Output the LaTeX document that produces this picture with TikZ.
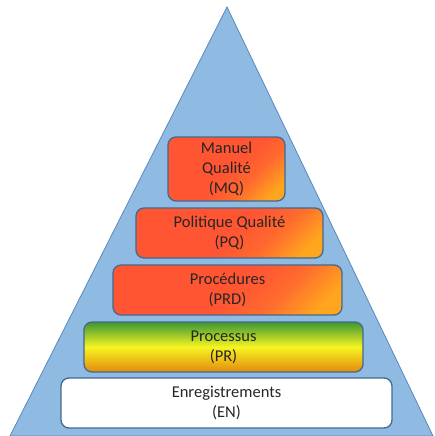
\documentclass[tikz,border=0pt]{standalone}
\usepackage{fontspec}
\setmainfont{Carlito}
\usetikzlibrary{shapes,calc}
\definecolor{pyrblue}{HTML}{8FBBE3}
\definecolor{pyrline}{HTML}{5B87BD}
\definecolor{boxline}{HTML}{43698F}
\definecolor{qred}{HTML}{FF5533}
\definecolor{qorange}{HTML}{FFA51E}
\definecolor{qgreen}{HTML}{3C9632}
\definecolor{qyellow}{HTML}{F7F522}
\definecolor{qamber}{HTML}{E38A0E}
\pgfdeclareverticalshading{redorange}{100bp}{color(0bp)=(qorange); color(22bp)=(qorange); color(36bp)=(qred!75!qorange); color(48bp)=(qred); color(100bp)=(qred)}
\begin{document}
\begin{tikzpicture}[x=1pt,y=-1pt]
			\tikzstyle{level}=[rectangle, rounded corners=8pt, draw=boxline, line width=1.3pt, align=center, text=black!85, font=\fontsize{16.5}{20}\selectfont, inner sep=2pt]
			\tikzstyle{hot}=[level, shading=redorange, shading angle=45]
			\useasboundingbox (0,0) rectangle (434,436);
			\fill[pyrblue, draw=pyrline, line width=0.8pt] (227,7) -- (433,436) -- (10,436) -- cycle;
			\node[hot, minimum width=117pt, minimum height=64pt] (mq) at (226.5,169) {Manuel\\Qualité\\(MQ)};
			\node[hot, minimum width=187pt, minimum height=50pt] (pq) at (229.5,233) {Politique Qualité\\(PQ)};
			\node[hot, minimum width=229pt, minimum height=50pt] (prd) at (227.5,290) {Procédures\\(PRD)};
			\node[level, top color=qgreen, bottom color=qamber, middle color=qyellow, minimum width=279pt, minimum height=50pt] (pr) at (223.5,347) {Processus\\(PR)};
			\node[level, fill=white, minimum width=331pt, minimum height=50pt] (en) at (226.5,403) {Enregistrements\\(EN)};
		\end{tikzpicture}
\end{document}
